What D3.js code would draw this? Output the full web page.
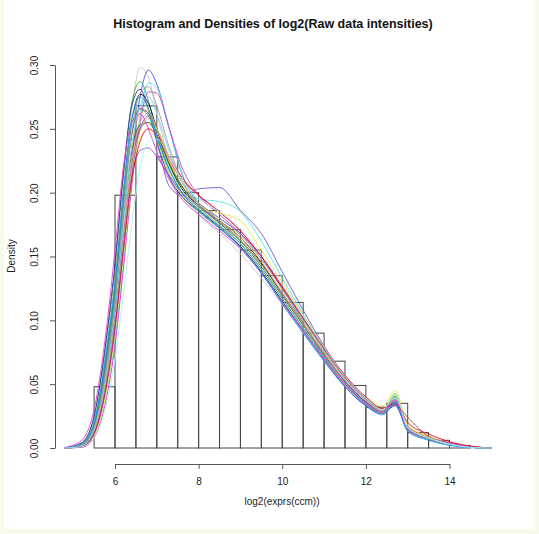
<!DOCTYPE html>
<html>
<head>
<meta charset="utf8">
<style>
body { margin: 0; background: #f8faec; }
text { font-family: "Liberation Sans", Arial, sans-serif; }
</style>
</head>
<body>
<div id="canvas"></div>
<script src="https://cdn.jsdelivr.net/npm/d3@7"></script>
<script>

// histogram breaks and heights (density)
const breaks = [5.5, 6, 6.5, 7, 7.5, 8, 8.5, 9, 9.5, 10, 10.5, 11, 11.5, 12, 12.5, 13, 13.5, 14, 14.5];
const histDensity = [0.048, 0.198, 0.268, 0.228, 0.200, 0.186, 0.171, 0.155, 0.135, 0.114, 0.090, 0.068, 0.049, 0.032, 0.035, 0.012, 0.006, 0.002];

const xTicks = [6, 8, 10, 12, 14];
const yTicks = [0, 0.05, 0.10, 0.15, 0.20, 0.25, 0.30];

// x positions where each density curve was read
const gridX = [4.8, 5.2, 5.5, 5.8, 6.0, 6.2, 6.4, 6.6, 6.8, 7.0, 7.3, 7.6, 8.0, 8.5, 9.0, 9.5, 10.0, 10.5, 11.0, 11.5, 12.0, 12.4, 12.7, 13.0, 13.5, 14.0, 14.5, 15.0];

const curveColors = ["#c8c8c8", "#4b4be6", "#4fe3e3", "#44b044", "#303090", "#cc44cc", "#000000", "#e04444",
  "#e8e840", "#f08cb4", "#f0a030", "#a0522d", "#2e7d32", "#6a5acd", "#90ee90", "#20a0a0",
  "#7b52c8", "#a0a0a0", "#e040e0", "#87cefa", "#bdb76b", "#dc143c", "#1e90ff", "#a8f0f0"];

const curveValues = [
  [0, 0.003, 0.02, 0.075, 0.125, 0.2, 0.265, 0.298, 0.29, 0.262, 0.225, 0.2, 0.183, 0.168, 0.152, 0.133, 0.112, 0.09, 0.068, 0.048, 0.034, 0.028, 0.036, 0.015, 0.008, 0.003, 0.001, 0],
  [0, 0.001, 0.012, 0.055, 0.1, 0.16, 0.225, 0.275, 0.296, 0.285, 0.25, 0.215, 0.192, 0.18, 0.168, 0.15, 0.125, 0.098, 0.072, 0.05, 0.034, 0.027, 0.033, 0.014, 0.007, 0.003, 0.0005, 0],
  [0, 0.001, 0.01, 0.045, 0.085, 0.145, 0.21, 0.26, 0.286, 0.282, 0.25, 0.215, 0.195, 0.193, 0.185, 0.162, 0.133, 0.105, 0.079, 0.056, 0.039, 0.03, 0.04, 0.016, 0.008, 0.003, 0.0005, 0],
  [0, 0.004, 0.024, 0.085, 0.14, 0.212, 0.27, 0.287, 0.272, 0.245, 0.215, 0.198, 0.185, 0.172, 0.158, 0.138, 0.115, 0.092, 0.07, 0.05, 0.035, 0.028, 0.041, 0.016, 0.008, 0.003, 0.001, 0],
  [0, 0.004, 0.025, 0.088, 0.145, 0.215, 0.268, 0.281, 0.265, 0.24, 0.212, 0.197, 0.186, 0.173, 0.158, 0.138, 0.115, 0.092, 0.069, 0.048, 0.033, 0.027, 0.034, 0.014, 0.007, 0.003, 0.0005, 0],
  [0, 0.0005, 0.008, 0.04, 0.08, 0.14, 0.205, 0.255, 0.279, 0.278, 0.25, 0.22, 0.198, 0.183, 0.168, 0.15, 0.127, 0.102, 0.077, 0.055, 0.038, 0.029, 0.037, 0.015, 0.008, 0.003, 0.0005, 0],
  [0, 0.003, 0.02, 0.075, 0.128, 0.198, 0.255, 0.277, 0.27, 0.25, 0.222, 0.203, 0.19, 0.178, 0.165, 0.145, 0.12, 0.097, 0.074, 0.052, 0.036, 0.029, 0.036, 0.015, 0.008, 0.004, 0.001, 0],
  [0, 0.002, 0.015, 0.06, 0.105, 0.165, 0.222, 0.25, 0.255, 0.245, 0.225, 0.21, 0.198, 0.185, 0.17, 0.15, 0.125, 0.1, 0.077, 0.055, 0.038, 0.03, 0.035, 0.017, 0.009, 0.004, 0.001, 0],
  [0, 0.001, 0.01, 0.045, 0.09, 0.15, 0.21, 0.243, 0.25, 0.24, 0.215, 0.198, 0.188, 0.184, 0.178, 0.155, 0.13, 0.104, 0.079, 0.056, 0.04, 0.033, 0.045, 0.018, 0.009, 0.004, 0.001, 0],
  [0, 0.002, 0.014, 0.058, 0.105, 0.168, 0.225, 0.255, 0.262, 0.25, 0.225, 0.205, 0.19, 0.176, 0.16, 0.14, 0.117, 0.094, 0.072, 0.051, 0.036, 0.029, 0.038, 0.016, 0.008, 0.003, 0.001, 0],
  [0, 0.002, 0.016, 0.065, 0.112, 0.178, 0.235, 0.262, 0.264, 0.25, 0.224, 0.205, 0.19, 0.178, 0.165, 0.146, 0.122, 0.098, 0.075, 0.053, 0.037, 0.029, 0.038, 0.016, 0.008, 0.003, 0.001, 0],
  [0, 0.002, 0.018, 0.07, 0.12, 0.19, 0.245, 0.266, 0.262, 0.245, 0.222, 0.205, 0.192, 0.18, 0.167, 0.148, 0.125, 0.101, 0.078, 0.056, 0.039, 0.031, 0.034, 0.024, 0.009, 0.004, 0.001, 0],
  [0, 0.002, 0.017, 0.066, 0.113, 0.178, 0.232, 0.253, 0.255, 0.245, 0.222, 0.205, 0.19, 0.176, 0.162, 0.142, 0.119, 0.096, 0.073, 0.052, 0.036, 0.028, 0.04, 0.015, 0.007, 0.003, 0.0005, 0],
  [0, 0.001, 0.012, 0.05, 0.093, 0.155, 0.215, 0.25, 0.26, 0.24, 0.205, 0.198, 0.203, 0.204, 0.186, 0.168, 0.138, 0.108, 0.08, 0.056, 0.038, 0.029, 0.034, 0.015, 0.007, 0.003, 0.0005, 0],
  [0, 0.003, 0.021, 0.078, 0.13, 0.2, 0.255, 0.272, 0.265, 0.245, 0.22, 0.202, 0.188, 0.175, 0.16, 0.14, 0.117, 0.094, 0.071, 0.05, 0.035, 0.028, 0.039, 0.015, 0.007, 0.003, 0.0005, 0],
  [0, 0.002, 0.019, 0.072, 0.122, 0.19, 0.246, 0.265, 0.26, 0.243, 0.218, 0.2, 0.187, 0.174, 0.16, 0.14, 0.117, 0.094, 0.071, 0.05, 0.035, 0.027, 0.037, 0.014, 0.007, 0.003, 0.0005, 0],
  [0, 0.002, 0.016, 0.062, 0.105, 0.163, 0.212, 0.233, 0.235, 0.228, 0.213, 0.2, 0.189, 0.177, 0.163, 0.144, 0.121, 0.097, 0.074, 0.052, 0.036, 0.028, 0.036, 0.015, 0.007, 0.003, 0.0005, 0],
  [0, 0.002, 0.016, 0.065, 0.115, 0.185, 0.248, 0.278, 0.283, 0.268, 0.235, 0.21, 0.19, 0.173, 0.157, 0.137, 0.114, 0.091, 0.069, 0.049, 0.034, 0.027, 0.036, 0.014, 0.007, 0.003, 0.0005, 0],
  [0.0005, 0.006, 0.03, 0.095, 0.155, 0.22, 0.255, 0.262, 0.25, 0.232, 0.21, 0.195, 0.183, 0.17, 0.156, 0.137, 0.114, 0.092, 0.07, 0.05, 0.035, 0.028, 0.038, 0.015, 0.008, 0.004, 0.001, 0],
  [0, 0.002, 0.015, 0.06, 0.108, 0.175, 0.237, 0.268, 0.275, 0.262, 0.232, 0.208, 0.192, 0.18, 0.167, 0.148, 0.124, 0.1, 0.076, 0.054, 0.038, 0.03, 0.04, 0.016, 0.008, 0.003, 0.0005, 0],
  [0, 0.002, 0.014, 0.056, 0.1, 0.162, 0.218, 0.248, 0.258, 0.25, 0.228, 0.208, 0.192, 0.178, 0.163, 0.143, 0.12, 0.097, 0.074, 0.053, 0.037, 0.029, 0.043, 0.016, 0.008, 0.003, 0.0005, 0],
  [0, 0.001, 0.011, 0.05, 0.095, 0.155, 0.21, 0.24, 0.25, 0.245, 0.228, 0.212, 0.198, 0.185, 0.17, 0.15, 0.126, 0.102, 0.079, 0.057, 0.04, 0.031, 0.035, 0.02, 0.011, 0.005, 0.0015, 0],
  [0, 0.003, 0.02, 0.078, 0.13, 0.2, 0.258, 0.275, 0.266, 0.245, 0.218, 0.2, 0.186, 0.172, 0.157, 0.137, 0.113, 0.09, 0.068, 0.048, 0.033, 0.026, 0.035, 0.013, 0.006, 0.002, 0.0003, 0],
  [0, 0.001, 0.008, 0.035, 0.07, 0.12, 0.175, 0.22, 0.24, 0.242, 0.228, 0.21, 0.195, 0.185, 0.172, 0.152, 0.128, 0.103, 0.079, 0.056, 0.039, 0.03, 0.042, 0.016, 0.008, 0.003, 0.0005, 0]
];

const W = 539, H = 534;
const svg = d3.select("#canvas").append("svg")
    .attr("width", W)
    .attr("height", H)
    .style("display", "block");

// white panel inside the cream border
svg.append("rect")
    .attr("x", 4).attr("y", 0)
    .attr("width", 531).attr("height", 529)
    .attr("fill", "#ffffff");

const x = d3.scaleLinear().domain([6, 14]).range([115, 449.5]);
const y = d3.scaleLinear().domain([0, 0.30]).range([448, 65]);

// histogram bars
svg.append("g")
  .selectAll("rect")
  .data(histDensity)
  .join("rect")
    .attr("x", (d, i) => x(breaks[i]))
    .attr("y", d => y(d))
    .attr("width", (d, i) => x(breaks[i + 1]) - x(breaks[i]))
    .attr("height", d => y(0) - y(d))
    .attr("fill", "none")
    .attr("stroke", "#444")
    .attr("stroke-width", 1);

// density lines
const line = d3.line()
    .x((d, i) => x(gridX[i]))
    .y(d => y(d))
    .curve(d3.curveMonotoneX);

svg.append("g")
  .selectAll("path")
  .data(curveValues)
  .join("path")
    .attr("d", line)
    .attr("fill", "none")
    .attr("stroke", (d, i) => curveColors[i])
    .attr("stroke-opacity", 0.9)
    .attr("stroke-width", 1);

// axes
const xAxis = svg.append("g")
    .attr("transform", "translate(0,464)")
    .call(d3.axisBottom(x).tickValues(xTicks).tickSize(5).tickSizeOuter(0).tickPadding(9));
xAxis.selectAll("text").attr("font-size", 10).attr("fill", "#222");

const yAxis = svg.append("g")
    .attr("transform", "translate(55,0)")
    .call(d3.axisLeft(y).tickValues(yTicks).tickFormat(d3.format(".2f")).tickSize(5).tickSizeOuter(0));
yAxis.selectAll("text")
    .attr("font-size", 10)
    .attr("fill", "#222")
    .attr("text-anchor", "middle")
    .attr("x", 0).attr("dy", 0)
    .attr("transform", "translate(-17,0) rotate(-90)");

svg.selectAll(".domain, .tick line").attr("stroke", "#555");

// titles
svg.append("text")
    .attr("x", 273).attr("y", 28)
    .attr("text-anchor", "middle")
    .attr("font-size", 12.5)
    .attr("font-weight", "bold")
    .attr("fill", "#111")
    .text("Histogram and Densities of log2(Raw data intensities)");

svg.append("text")
    .attr("x", 282).attr("y", 505)
    .attr("text-anchor", "middle")
    .attr("font-size", 10)
    .attr("fill", "#222")
    .text("log2(exprs(ccm))");

svg.append("text")
    .attr("transform", "translate(15,256) rotate(-90)")
    .attr("text-anchor", "middle")
    .attr("font-size", 10)
    .attr("fill", "#222")
    .text("Density");
</script>
</body>
</html>
